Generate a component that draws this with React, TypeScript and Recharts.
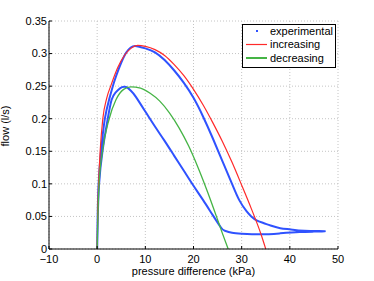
import React from 'react';
import { ComposedChart, Line, XAxis, YAxis, CartesianGrid, Legend } from 'recharts';

const FONT = '"Liberation Sans", Arial, Helvetica, sans-serif';

const xTicks = [-10, 0, 10, 20, 30, 40, 50];
const yTicks = [0, 0.05, 0.1, 0.15, 0.2, 0.25, 0.3, 0.35];

// experimental loop: pressure difference (kPa) -> flow (l/s), in measurement order
const experimental = [
  { p: 0, f: 0 }, { p: 0.1, f: 0.05 }, { p: 0.3, f: 0.1 }, { p: 0.8, f: 0.15 }, { p: 1.6, f: 0.2 },
  { p: 2.5, f: 0.23 }, { p: 3.5, f: 0.256 }, { p: 4.5, f: 0.277 }, { p: 5.6, f: 0.296 }, { p: 6.5, f: 0.306 },
  { p: 7.4, f: 0.311 }, { p: 8.5, f: 0.311 }, { p: 10, f: 0.308 }, { p: 12, f: 0.302 }, { p: 14, f: 0.29 },
  { p: 16, f: 0.274 }, { p: 18, f: 0.255 }, { p: 20, f: 0.232 }, { p: 22, f: 0.203 }, { p: 24, f: 0.17 },
  { p: 26, f: 0.135 }, { p: 28, f: 0.1 }, { p: 29.5, f: 0.075 }, { p: 31, f: 0.058 }, { p: 32, f: 0.05 },
  { p: 33.1, f: 0.044 }, { p: 34.5, f: 0.04 }, { p: 36, f: 0.036 }, { p: 38, f: 0.032 }, { p: 40.2, f: 0.03 },
  { p: 43, f: 0.028 }, { p: 47.2, f: 0.0273 },
  { p: 45, f: 0.0267 }, { p: 42, f: 0.026 }, { p: 38, f: 0.024 }, { p: 34, f: 0.0225 }, { p: 30, f: 0.0235 },
  { p: 28, f: 0.025 }, { p: 26.5, f: 0.028 }, { p: 25.7, f: 0.033 }, { p: 24, f: 0.052 }, { p: 22, f: 0.075 },
  { p: 20, f: 0.097 }, { p: 18, f: 0.12 }, { p: 16, f: 0.143 }, { p: 14, f: 0.166 }, { p: 12, f: 0.188 },
  { p: 10, f: 0.211 }, { p: 8, f: 0.234 }, { p: 7, f: 0.243 }, { p: 6.2, f: 0.248 }, { p: 5.6, f: 0.249 },
  { p: 4.8, f: 0.247 }, { p: 3.8, f: 0.24 }, { p: 3, f: 0.229 }, { p: 2.2, f: 0.2 }, { p: 1.1, f: 0.15 },
  { p: 0.4, f: 0.1 }, { p: 0.13, f: 0.05 }, { p: 0, f: 0 },
];

const increasing = [
  { p: 0, f: 0 }, { p: 0.1, f: 0.05 }, { p: 0.3, f: 0.1 }, { p: 0.62, f: 0.15 }, { p: 1.17, f: 0.2 },
  { p: 2, f: 0.232 }, { p: 2.9, f: 0.252 }, { p: 4.3, f: 0.279 }, { p: 5.65, f: 0.297 }, { p: 7, f: 0.308 },
  { p: 8.4, f: 0.3125 }, { p: 10, f: 0.311 }, { p: 12, f: 0.306 }, { p: 14, f: 0.297 }, { p: 16, f: 0.283 },
  { p: 18, f: 0.266 }, { p: 20, f: 0.245 }, { p: 22, f: 0.221 }, { p: 24, f: 0.194 }, { p: 26, f: 0.165 },
  { p: 28, f: 0.133 }, { p: 30, f: 0.098 }, { p: 32, f: 0.062 }, { p: 34, f: 0.023 }, { p: 35, f: 0 },
];

const decreasing = [
  { p: 0, f: 0 }, { p: 0.15, f: 0.05 }, { p: 0.4, f: 0.1 }, { p: 1.1, f: 0.15 }, { p: 2.5, f: 0.2 },
  { p: 3.9, f: 0.229 }, { p: 5.5, f: 0.245 }, { p: 7, f: 0.249 }, { p: 9, f: 0.247 }, { p: 11, f: 0.239 },
  { p: 13, f: 0.227 }, { p: 15, f: 0.209 }, { p: 17, f: 0.186 }, { p: 19, f: 0.158 }, { p: 21, f: 0.124 },
  { p: 23, f: 0.086 }, { p: 25, f: 0.045 }, { p: 26, f: 0.024 }, { p: 27.2, f: 0 },
];

const seriesNames = ['experimental', 'increasing', 'decreasing'];
const seriesColors = ['#2f52ff', '#ff2a2a', '#45b445'];

const fmtX = (v: number) => (v < 0 ? '\u2212' + Math.abs(v) : String(v));

const LegendBox = () => (
  <svg width={94} height={44} style={{ display: 'block' }}>
    <rect x={0.5} y={0.5} width={93} height={43} fill="#fff" stroke="#000" strokeWidth={1} />
    {seriesNames.map((name, i) => {
      const cy = 7 + i * 13.5;
      return (
        <g key={name}>
          {i === 0 ? (
            <rect x={14} y={cy - 1} width={2} height={2} fill={seriesColors[i]} />
          ) : (
            <line x1={4} x2={25} y1={cy} y2={cy} stroke={seriesColors[i]} strokeWidth={i === 2 ? 2 : 1.2} />
          )}
          <text x={28} y={cy} dy="0.35em" fontSize={11} fontFamily={FONT} fill="#000">{name}</text>
        </g>
      );
    })}
  </svg>
);

const XTitle = (props: any) => {
  const vb = props.viewBox || { x: 49, y: 249, width: 289, height: 32 };
  return (
    <text x={vb.x + vb.width / 2} y={vb.y + 25.5} textAnchor="middle" fontSize={11} fontFamily={FONT} fill="#000">
      pressure difference (kPa)
    </text>
  );
};

const YTitle = () => (
  <text transform="translate(9,126) rotate(-90)" textAnchor="middle" fontSize={11} fontFamily={FONT} fill="#000">
    flow (l/s)
  </text>
);

const tickStyle = { fill: '#000', fontSize: 11, fontFamily: FONT };

export default function App() {
  return (
    <div style={{ position: 'absolute', left: 0, top: 0, width: 374, height: 281, background: '#fff' }}>
      <ComposedChart width={374} height={281} margin={{ top: 21, right: 36, bottom: 0, left: 0 }}>
        <CartesianGrid stroke="#c4c4c4" strokeDasharray="1 2" />
        <XAxis
          type="number"
          dataKey="p"
          domain={[-10, 50]}
          ticks={xTicks}
          allowDataOverflow
          interval={0}
          height={32}
          tickSize={-3}
          tickMargin={9.5}
          tick={tickStyle}
          tickFormatter={fmtX}
          axisLine={{ stroke: '#000' }}
          tickLine={{ stroke: '#000' }}
          label={<XTitle />}
        />
        <XAxis
          xAxisId="top"
          orientation="top"
          type="number"
          domain={[-10, 50]}
          ticks={xTicks}
          allowDataOverflow
          interval={0}
          height={0}
          tickSize={-3}
          tick={false}
          axisLine={{ stroke: '#000' }}
          tickLine={{ stroke: '#000' }}
        />
        <YAxis
          type="number"
          domain={[0, 0.35]}
          ticks={yTicks}
          allowDataOverflow
          interval={0}
          width={49}
          tickSize={-3}
          tickMargin={5}
          tick={tickStyle}
          axisLine={{ stroke: '#000' }}
          tickLine={{ stroke: '#000' }}
          label={<YTitle />}
        />
        <YAxis
          yAxisId="right"
          orientation="right"
          type="number"
          domain={[0, 0.35]}
          ticks={yTicks}
          allowDataOverflow
          interval={0}
          width={0}
          tickSize={-3}
          tick={false}
          axisLine={{ stroke: '#000' }}
          tickLine={{ stroke: '#000' }}
        />
        <Line
          data={experimental}
          dataKey="f"
          name={seriesNames[0]}
          type="natural"
          stroke={seriesColors[0]}
          strokeWidth={2}
          dot={false}
          isAnimationActive={false}
        />
        <Line
          data={increasing}
          dataKey="f"
          name={seriesNames[1]}
          type="monotone"
          stroke={seriesColors[1]}
          strokeWidth={1.2}
          dot={false}
          isAnimationActive={false}
        />
        <Line
          data={decreasing}
          dataKey="f"
          name={seriesNames[2]}
          type="monotone"
          stroke={seriesColors[2]}
          strokeWidth={1.3}
          dot={false}
          isAnimationActive={false}
        />
        <Legend
          layout="vertical"
          align="center"
          verticalAlign="middle"
          content={<LegendBox />}
          wrapperStyle={{ position: 'absolute', left: 242, top: 24, width: 94, height: 44 }}
        />
      </ComposedChart>
    </div>
  );
}
